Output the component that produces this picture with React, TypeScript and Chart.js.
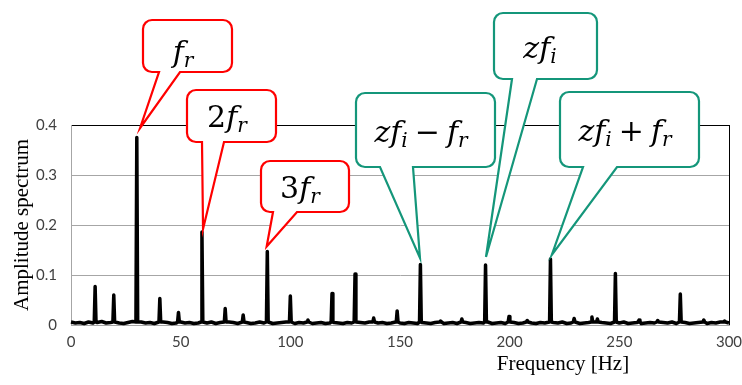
import React, { useEffect, useRef } from 'react';
import { Chart, registerables } from 'chart.js';

Chart.register(...registerables);

// ---------------- data ----------------
const noiseStepHz = 2;
const noiseFloor = [
  0.006, 0.004, 0.005, 0.003, 0.006, 0.004, 0.005, 0.007, 0.004, 0.005,
  0.006, 0.004, 0.003, 0.005, 0.007, 0.008, 0.006, 0.004, 0.005, 0.003,
  0.004, 0.006, 0.005, 0.003, 0.004, 0.006, 0.004, 0.005, 0.003, 0.004,
  0.005, 0.004, 0.006, 0.003, 0.005, 0.004, 0.006, 0.005, 0.003, 0.004,
  0.005, 0.003, 0.004, 0.006, 0.004, 0.005, 0.003, 0.004, 0.005, 0.006,
  0.004, 0.003, 0.005, 0.004, 0.006, 0.003, 0.004, 0.005, 0.003, 0.004,
  0.005, 0.004, 0.003, 0.005, 0.004, 0.003, 0.005, 0.004, 0.006, 0.003,
  0.004, 0.005, 0.003, 0.004, 0.006, 0.004, 0.003, 0.005, 0.004, 0.003,
  0.005, 0.004, 0.003, 0.005, 0.004, 0.003, 0.004, 0.005, 0.003, 0.004,
  0.005, 0.003, 0.004, 0.005, 0.004, 0.006, 0.003, 0.004, 0.005, 0.003,
  0.004, 0.005, 0.003, 0.004, 0.006, 0.004, 0.003, 0.005, 0.004, 0.003,
  0.005, 0.004, 0.006, 0.003, 0.004, 0.005, 0.003, 0.004, 0.005, 0.004,
  0.003, 0.005, 0.004, 0.003, 0.005, 0.004, 0.006, 0.003, 0.004, 0.005,
  0.003, 0.004, 0.005, 0.004, 0.003, 0.005, 0.004, 0.006, 0.003, 0.004,
  0.005, 0.003, 0.004, 0.005, 0.004, 0.003, 0.005, 0.004, 0.006, 0.003,
  0.004,
];

const spikeFreqs = [
  11, 19.5, 30, 40.5, 49, 59.7, 70.3, 78.5, 89.5, 100, 108, 119, 129.5, 138,
  148.7, 159.3, 168.5, 178.2, 189, 199.7, 208, 218.6, 229.4, 237.5, 240,
  248.2, 259, 267.5, 277.8, 288.5, 298,
];
const spikeAmps = [
  0.077, 0.06, 0.375, 0.053, 0.025, 0.186, 0.033, 0.02, 0.147, 0.058, 0.01,
  0.063, 0.102, 0.014, 0.028, 0.121, 0.008, 0.012, 0.12, 0.017, 0.009, 0.132,
  0.013, 0.016, 0.012, 0.103, 0.01, 0.009, 0.062, 0.01, 0.008,
];
const spikeBase = 0.006;

const xMin = 0;
const xMax = 300;
const xStep = 50;
const yMin = 0;
const yMax = 0.4;
const yStep = 0.1;

const xTitle = 'Frequency [Hz]';
const yTitle = 'Amplitude spectrum';

// callout labels: [text, style] with style i = italic, s = italic subscript, n = upright, o = operator
const calloutLabels: [string, string][][] = [
  [['f', 'i'], ['r', 's']],
  [['2', 'n'], ['f', 'i'], ['r', 's']],
  [['3', 'n'], ['f', 'i'], ['r', 's']],
  [['z', 'i'], ['f', 'i'], ['i', 's'], ['−', 'o'], ['f', 'i'], ['r', 's']],
  [['z', 'i'], ['f', 'i'], ['i', 's']],
  [['z', 'i'], ['f', 'i'], ['i', 's'], ['+', 'o'], ['f', 'i'], ['r', 's']],
];
const calloutTipFreqs = [31.5, 60.2, 89.2, 159.1, 189.2, 219.2];
const calloutTipAmps = [0.394, 0.192, 0.157, 0.134, 0.136, 0.14];

// ---------------- styling / layout ----------------
const calloutColors = ['#FF0000', '#FF0000', '#FF0000', '#14967A', '#14967A', '#14967A'];
// box: x1, y1, x2, y2, tailLeft, tailRight, textCenterX, baselineY (canvas px)
const calloutBoxes = [
  [143, 20, 232, 72, 159, 180, 183, 62],
  [187, 90, 276, 142, 202, 224, 227, 127],
  [261, 161, 349, 212, 273, 297, 300, 198],
  [356, 93, 495, 167, 380, 413, 421, 142],
  [494, 13, 597, 79, 512, 537, 540, 58],
  [560, 92, 699, 167, 583, 617, 625, 141],
];

const W = 742;
const H = 385;

function buildPoints() {
  const pts: { x: number; y: number }[] = [];
  noiseFloor.forEach((v, i) => {
    const x = i * noiseStepHz;
    if (spikeFreqs.every((f) => Math.abs(f - x) > 0.6)) pts.push({ x, y: v });
  });
  spikeFreqs.forEach((f, i) => {
    pts.push({ x: f - 0.4, y: spikeBase }, { x: f, y: spikeAmps[i] }, { x: f + 0.4, y: spikeBase });
  });
  pts.sort((a, b) => a.x - b.x);
  return pts;
}

const MAIN = 30;
const SUB = 20;
const SUB_DROP = 5;
const MATH = '"DejaVu Serif", "Liberation Serif", serif';
const SERIF = '"Liberation Serif", "DejaVu Serif", serif';

function fontFor(style: string) {
  if (style === 'i') return `italic ${MAIN}px ${MATH}`;
  if (style === 's') return `italic ${SUB}px ${MATH}`;
  return `${MAIN}px ${MATH}`;
}

function drawLabel(ctx: CanvasRenderingContext2D, parts: [string, string][], cx: number, by: number) {
  const pieces = parts.map(([t, s]) => {
    ctx.font = fontFor(s);
    const w = ctx.measureText(t).width;
    let pre = 0;
    let post = 0;
    if (s === 'o') {
      pre = 7;
      post = 7;
    }
    return { t, s, w, pre, post };
  });
  const total = pieces.reduce((a, p) => a + p.pre + p.w + p.post, 0);
  let x = cx - total / 2;
  ctx.fillStyle = '#000';
  ctx.textAlign = 'left';
  ctx.textBaseline = 'alphabetic';
  pieces.forEach((p) => {
    x += p.pre;
    ctx.font = fontFor(p.s);
    ctx.fillText(p.t, x, p.s === 's' ? by + SUB_DROP : by);
    x += p.w + p.post;
  });
}

function drawCallout(
  ctx: CanvasRenderingContext2D,
  box: number[],
  tip: { x: number; y: number },
  color: string
) {
  const [x1, y1, x2, y2, tl, tr] = box;
  const r = 9;
  ctx.beginPath();
  ctx.moveTo(x1 + r, y1);
  ctx.lineTo(x2 - r, y1);
  ctx.arcTo(x2, y1, x2, y1 + r, r);
  ctx.lineTo(x2, y2 - r);
  ctx.arcTo(x2, y2, x2 - r, y2, r);
  ctx.lineTo(tr, y2);
  ctx.lineTo(tip.x, tip.y);
  ctx.lineTo(tl, y2);
  ctx.lineTo(x1 + r, y2);
  ctx.arcTo(x1, y2, x1, y2 - r, r);
  ctx.lineTo(x1, y1 + r);
  ctx.arcTo(x1, y1, x1 + r, y1, r);
  ctx.closePath();
  ctx.fillStyle = '#FFFFFF';
  ctx.fill();
  ctx.strokeStyle = color;
  ctx.lineWidth = 2.2;
  ctx.lineJoin = 'miter';
  ctx.miterLimit = 10;
  ctx.stroke();
}

const overlayPlugin = {
  id: 'overlay',
  beforeDatasetsDraw(chart: any) {
    const { ctx, chartArea: a } = chart;
    ctx.save();
    ctx.strokeStyle = '#000';
    ctx.lineWidth = 1;
    ctx.beginPath();
    ctx.moveTo(a.right + 0.5, a.top);
    ctx.lineTo(a.right + 0.5, a.bottom);
    ctx.stroke();
    ctx.restore();
  },
  afterDraw(chart: any) {
    const { ctx, chartArea: a } = chart;
    const xs = chart.scales.x;
    const ys = chart.scales.y;
    ctx.save();
    ctx.fillStyle = '#000';
    ctx.font = `21px ${SERIF}`;
    ctx.textAlign = 'center';
    ctx.textBaseline = 'alphabetic';
    ctx.fillText(xTitle, 563, 370);
    ctx.save();
    ctx.translate(28, (a.top + a.bottom) / 2);
    ctx.rotate(-Math.PI / 2);
    ctx.fillText(yTitle, 0, 0);
    ctx.restore();
    calloutLabels.forEach((parts, i) => {
      const box = calloutBoxes[i];
      const tip = {
        x: xs.getPixelForValue(calloutTipFreqs[i]),
        y: ys.getPixelForValue(calloutTipAmps[i]),
      };
      drawCallout(ctx, box, tip, calloutColors[i]);
      drawLabel(ctx, parts, box[6], box[7]);
    });
    ctx.restore();
  },
};

export default function App() {
  const ref = useRef<HTMLCanvasElement | null>(null);
  useEffect(() => {
    if (!ref.current) return;
    const chart = new Chart(ref.current, {
      type: 'line',
      data: {
        datasets: [
          {
            data: buildPoints(),
            borderColor: '#000',
            borderWidth: 3.5,
            pointRadius: 0,
            tension: 0,
            borderJoinStyle: 'round',
            clip: false as any,
          },
        ],
      },
      options: {
        animation: false,
        responsive: false,
        maintainAspectRatio: false,
        layout: { padding: { top: 125, right: 13, left: 0, bottom: 0 } },
        plugins: { legend: { display: false }, tooltip: { enabled: false } },
        scales: {
          x: {
            type: 'linear',
            min: xMin,
            max: xMax,
            ticks: {
              stepSize: xStep,
              color: '#404040',
              font: { family: 'Lato', size: 15 },
              padding: 8,
              maxRotation: 0,
            },
            grid: { display: false, drawTicks: false },
            border: { display: true, color: '#A6A6A6' },
            afterFit: (s: any) => {
              s.height = 60;
              s.paddingLeft = 0;
              s.paddingRight = 0;
            },
          },
          y: {
            min: yMin,
            max: yMax,
            ticks: {
              stepSize: yStep,
              color: '#404040',
              font: { family: 'Lato', size: 15 },
              padding: 14,
              callback: (v: any) => (Number(v) === 0 ? '0' : Number(v).toFixed(1)),
            },
            grid: {
              drawTicks: false,
              color: (c: any) => (Math.abs(c.tick.value - yMax) < 1e-6 ? '#000000' : '#A6A6A6'),
              lineWidth: 1,
            },
            border: { display: true, color: '#A6A6A6' },
            afterFit: (s: any) => {
              s.width = 71;
              s.paddingTop = 0;
              s.paddingBottom = 0;
            },
          },
        },
      },
      plugins: [overlayPlugin],
    });
    return () => chart.destroy();
  }, []);
  return (
    <div style={{ position: 'absolute', left: 0, top: 0, width: W, height: H, background: '#fff' }}>
      <canvas ref={ref} width={W} height={H} style={{ width: W, height: H, display: 'block' }} />
    </div>
  );
}
